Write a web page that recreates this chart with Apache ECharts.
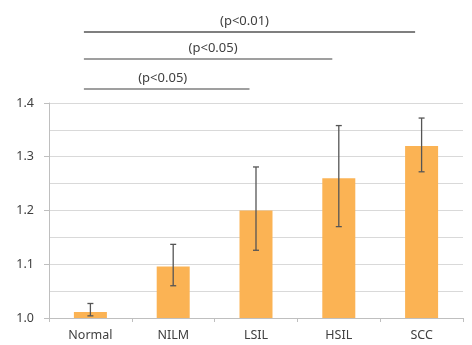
<!DOCTYPE html>
<html><head><meta charset="utf-8">
<script src="https://cdn.jsdelivr.net/npm/echarts@6/dist/echarts.min.js"></script>
<style>html,body{margin:0;padding:0;background:#fff}#c{width:472px;height:345px}</style>
</head><body><div id="c"></div>
<script>
const categories = ['Normal', 'NILM', 'LSIL', 'HSIL', 'SCC'];
const means = [1.011, 1.096, 1.200, 1.260, 1.320];
const errLow = [1.004, 1.060, 1.126, 1.170, 1.272];
const errHigh = [1.027, 1.137, 1.281, 1.358, 1.372];
const comparisons = [
  { from: 0, to: 2, label: '(p<0.05)' },
  { from: 0, to: 3, label: '(p<0.05)' },
  { from: 0, to: 4, label: '(p<0.01)' }
];

const chart = echarts.init(document.getElementById('c'));
const font = 'Noto Sans';
chart.setOption({
  animation: false,
  grid: { left: 49, right: 9, top: 103, bottom: 27 },
  xAxis: {
    type: 'category', data: categories,
    axisLine: { lineStyle: { color: '#bfbfbf' } },
    axisTick: { show: true, length: 4, lineStyle: { color: '#bfbfbf' } },
    axisLabel: { color: '#404040', fontFamily: font, fontSize: 12.5, margin: 11 }
  },
  yAxis: {
    type: 'value', min: 1.0, max: 1.4, interval: 0.1,
    axisLine: { show: true, lineStyle: { color: '#bfbfbf' } },
    axisTick: { show: true, length: 5, lineStyle: { color: '#bfbfbf' } },
    axisLabel: { color: '#404040', fontFamily: font, fontSize: 12.5, margin: 15,
      formatter: v => v.toFixed(1) },
    splitLine: { lineStyle: { color: '#d9d9d9' } },
    minorTick: { show: false, splitNumber: 2 },
    minorSplitLine: { show: true, lineStyle: { color: '#d9d9d9' } }
  },
  series: [
    {
      type: 'bar', data: means, barWidth: 33,
      itemStyle: { color: '#FBB354' }
    },
    {
      type: 'custom',
      data: categories.map((c, i) => [i, errLow[i], errHigh[i]]),
      z: 10,
      renderItem: function (params, api) {
        const x = api.value(0);
        const lo = api.coord([x, api.value(1)]);
        const hi = api.coord([x, api.value(2)]);
        const hw = 3;
        const style = { stroke: '#555', lineWidth: 1.3 };
        return {
          type: 'group',
          children: [
            { type: 'line', shape: { x1: hi[0], y1: hi[1], x2: lo[0], y2: lo[1] }, style },
            { type: 'line', shape: { x1: hi[0] - hw, y1: hi[1], x2: hi[0] + hw, y2: hi[1] }, style },
            { type: 'line', shape: { x1: lo[0] - hw, y1: lo[1], x2: lo[0] + hw, y2: lo[1] }, style }
          ]
        };
      }
    }
  ]
});

const lineYs = [89, 59, 32];
const textDx = [-4, 5, -5];
const els = [];
comparisons.forEach((cmp, k) => {
  const x1 = chart.convertToPixel({ xAxisIndex: 0 }, categories[cmp.from]) - 6.5;
  const x2 = chart.convertToPixel({ xAxisIndex: 0 }, categories[cmp.to]) - 6.5;
  const y = lineYs[k];
  els.push({ type: 'line', shape: { x1, y1: y, x2, y2: y },
    style: { stroke: k === 2 ? '#7f7f7f' : '#404040', lineWidth: k === 2 ? 2 : 1.2 } });
  els.push({ type: 'text', x: (x1 + x2) / 2 + textDx[k], y: y - 10.5,
    style: { text: cmp.label, fill: '#404040', font: '13px "Noto Sans"', align: 'center', verticalAlign: 'middle' } });
});
chart.setOption({ graphic: els });
</script></body></html>
